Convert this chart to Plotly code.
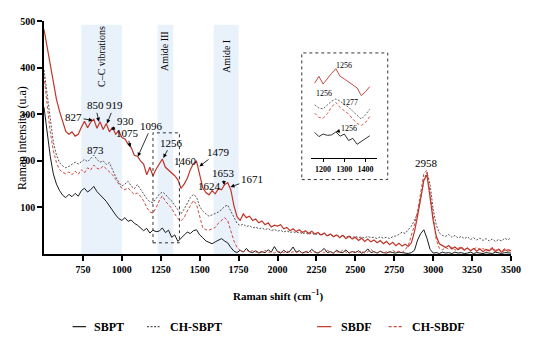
import plotly.graph_objects as go

# ---------------- data ----------------
raman_shift = list(range(500, 3501, 20))

sbpt = [
    315, 262, 210, 172, 150, 136, 126, 121, 128, 123,   # 500-680
    130, 124, 136, 141, 133, 138, 145, 134, 128, 120,   # 700-880
    113, 103, 93, 84, 76, 72, 78, 70, 73, 66,           # 900-1080
    62, 56, 50, 55, 45, 51, 48, 49, 56, 46,             # 1100-1280
    51, 36, 41, 27, 34, 40, 47, 44, 50, 52,             # 1300-1480
    41, 35, 28, 25, 22, 26, 30, 33, 28, 24,             # 1500-1680
    14, 6, 3, 8, 4, 12, 5, 3, 7, 2,                     # 1700-1880
    5, 3, 9, 4, 16, 5, 2, 8, 3, 6,                      # 1900-2080
    15, 4, 7, 2, 5, 3, 10, 4, 2, 6,                     # 2100-2280
    12, 3, 5, 2, 8, 4, 3, 9, 2, 5,                      # 2300-2480
    3, 7, 2, 4, 11, 3, 5, 2, 6, 3,                      # 2500-2680
    2, 5, 3, 2, 4, 3, 2, 1, 3, 8,                       # 2700-2880
    30, 44, 52, 34, 10, 2, 3, 1, 4, 2,                  # 2900-3080
    3, 1, 4, 2, 3, 1, 2, 4, 1, 3,                       # 3100-3280
    2, 1, 3, 2, 1, 4, 2, 1, 3, 2,                       # 3300-3480
    2,                                                  # 3500
]

ch_sbpt = [
    395, 340, 282, 240, 212, 196, 189, 185, 188, 193,
    197, 193, 199, 203, 198, 206, 212, 203, 197, 200,
    192, 196, 180, 166, 154, 146, 150, 156, 146, 140,
    149, 139, 130, 119, 112, 110, 119, 128, 133, 128,
    120, 114, 104, 94, 86, 96, 109, 121, 128, 122,
    102, 92, 86, 81, 84, 87, 90, 95, 102, 105,
    92, 78, 66, 61, 64, 59, 61, 56, 58, 54,
    56, 52, 55, 50, 53, 49, 51, 47, 50, 46,
    48, 45, 47, 43, 46, 42, 45, 41, 44, 40,
    43, 39, 42, 38, 41, 37, 40, 36, 39, 35,
    38, 35, 37, 34, 38, 35, 36, 33, 37, 34,
    36, 33, 37, 39, 42, 47, 44, 52, 60, 72,
    88, 118, 160, 175, 150, 96, 62, 45, 40, 38,
    42, 36, 40, 34, 38, 33, 37, 31, 35, 30,
    34, 29, 33, 28, 32, 27, 31, 28, 34, 30,
    35,
]

sbdf = [
    482, 445, 405, 368, 332, 306, 282, 263, 257, 262,
    253, 257, 272, 285, 271, 283, 289, 270, 284, 267,
    280, 262, 272, 257, 264, 250, 247, 236, 229, 212,
    210, 200, 193, 170, 186, 168, 182, 193, 204, 186,
    180, 173, 168, 159, 141, 150, 162, 181, 194, 199,
    172, 142, 132, 127, 136, 129, 140, 138, 149, 153,
    138, 104, 80, 72, 86, 78, 81, 72, 75, 67,
    71, 63, 67, 58, 62, 60, 63, 54, 57, 50,
    54, 48, 52, 46, 50, 44, 49, 43, 46, 41,
    45, 39, 43, 37, 41, 35, 40, 33, 38, 32,
    36, 29, 34, 27, 32, 26, 30, 24, 29, 22,
    27, 20, 25, 18, 23, 17, 21, 16, 24, 48,
    82, 118, 158, 170, 120, 72, 38, 22, 18, 14,
    18, 11, 15, 9, 14, 8, 13, 7, 12, 6,
    11, 5, 10, 7, 12, 5, 10, 4, 9, 6,
    8,
]

ch_sbdf = [
    382, 318, 262, 222, 196, 181, 175, 172, 176, 170,
    178, 171, 181, 174, 185, 180, 191, 184, 182, 189,
    183, 178, 170, 160, 150, 141, 138, 142, 134, 128,
    131, 124, 114, 100, 90, 88, 99, 114, 125, 113,
    106, 98, 86, 76, 71, 78, 92, 103, 115, 106,
    80, 56, 52, 51, 54, 57, 66, 71, 78, 72,
    52, 28, 14, 8, 5, 9, 4, 7, 3, 6,
    4, 8, 3, 5, 2, 6, 4, 3, 7, 2,
    5, 3, 6, 2, 4, 7, 3, 5, 2, 6,
    3, 8, 4, 2, 5, 3, 9, 4, 2, 6,
    4, 3, 7, 2, 5, 10, 4, 3, 6, 2,
    5, 3, 8, 4, 6, 3, 9, 18, 40, 62,
    92, 132, 172, 180, 135, 82, 30, 12, 9, 14,
    10, 15, 8, 12, 16, 9, 13, 7, 11, 14,
    9, 12, 6, 10, 14, 8, 11, 6, 12, 9,
    10,
]

series_names = ["SBPT", "CH-SBPT", "SBDF", "CH-SBDF"]
band_names = ["C–C vibrations", "Amide III", "Amide I"]
band_starts = [740, 1230, 1590]
band_ends = [1000, 1330, 1750]
x_ticks = list(range(750, 3501, 250))
y_ticks = [100, 200, 300, 400, 500]
inset_ticks = [1200, 1300, 1400]
inset_window = (1150, 1420)

# ---------------- geometry helpers ----------------
# the page body adds an 8px margin, so the figure is 542x338 to fill 550x346
FW, FH = 542, 338
L, R, T, B = 36, 39, 7, 92
PW, PH = FW - L - R, FH - T - B
SC = 0.955   # scale from measured reference units to screen pixels


def ox(o):
    return (o * SC - 8 - L) / PW


def oy(o):
    return (FH - B - (o * SC - 8)) / PH


FONT = "Liberation Serif"
styles = {
    "SBPT": dict(color="#1c1c1c", width=1.0, dash="solid"),
    "CH-SBPT": dict(color="#555555", width=1.0, dash="2px,1.5px"),
    "SBDF": dict(color="#c0352a", width=1.2, dash="solid"),
    "CH-SBDF": dict(color="#d2483c", width=1.0, dash="3px,2px"),
}
data_map = {"SBPT": sbpt, "CH-SBPT": ch_sbpt, "SBDF": sbdf, "CH-SBDF": ch_sbdf}

fig = go.Figure()

draw_order = ["SBPT", "CH-SBPT", "CH-SBDF", "SBDF"]
for name in draw_order:
    fig.add_trace(go.Scatter(x=raman_shift, y=data_map[name], mode="lines",
                             line=styles[name], name=name, showlegend=False,
                             xaxis="x", yaxis="y"))

# inset traces
idx = [i for i, v in enumerate(raman_shift) if inset_window[0] <= v <= inset_window[1]]
for name in draw_order:
    fig.add_trace(go.Scatter(x=[raman_shift[i] for i in idx],
                             y=[data_map[name][i] for i in idx], mode="lines",
                             line=dict(color=styles[name]["color"], width=0.9,
                                       dash=styles[name]["dash"]),
                             showlegend=False, xaxis="x2", yaxis="y2"))

shapes = []
for s, e in zip(band_starts, band_ends):
    shapes.append(dict(type="rect", xref="x", yref="y", x0=s, x1=e, y0=0, y1=492,
                       fillcolor="#e9f1fb", line=dict(width=0), layer="below"))
# dotted rectangle in main plot
shapes.append(dict(type="rect", xref="x", yref="y", x0=1200, x1=1370, y0=24, y1=260,
                   line=dict(color="#333", width=1, dash="dot")))
# inset frame
shapes.append(dict(type="rect", xref="paper", yref="paper",
                   x0=ox(316), x1=ox(406), y0=oy(186), y1=oy(50),
                   line=dict(color="#333", width=1, dash="dot")))

annotations = []
font_lbl = dict(family=FONT, size=11, color="black")


def arrow_ann(text, tx, ty, hx, hy, size=11, xr="x", yr="y"):
    annotations.append(dict(x=hx, y=hy, ax=tx, ay=ty, xref=xr, yref=yr,
                            axref=xr, ayref=yr, text=text, showarrow=True,
                            arrowhead=2, arrowsize=1, arrowwidth=0.8,
                            arrowcolor="black", standoff=0,
                            font=dict(family=FONT, size=size, color="black")))


arrow_ann("827", 690, 293, 813, 287)
arrow_ann("850", 829, 319, 853, 284)
arrow_ann("919", 951, 319, 905, 280)
arrow_ann("930", 1021, 285, 931, 266)
arrow_ann("1075", 1034, 259, 1054, 229)
arrow_ann("1096", 1191, 275, 1103, 209)
arrow_ann("1256", 1318, 239, 1267, 206)
arrow_ann("873", 829, 224, 860, 206)
arrow_ann("1460", 1410, 200, 1441, 185)
arrow_ann("1479", 1621, 219, 1498, 188)
arrow_ann("1653", 1651, 174, 1657, 148)
arrow_ann("1624", 1565, 145, 1621, 131)
arrow_ann("1671", 1835, 160, 1698, 144)

annotations.append(dict(x=2960, y=195, xref="x", yref="y", text="2958", showarrow=False,
                        font=font_lbl))

# inset labels
arrow_ann("1256", 1297, 212, 1260, 202, size=8, xr="x2", yr="y2")
arrow_ann("1256", 1203, 147, 1252, 134, size=8, xr="x2", yr="y2")
arrow_ann("1277", 1329, 125, 1288, 128, size=8, xr="x2", yr="y2")
arrow_ann("1256", 1320, 64, 1260, 56, size=8, xr="x2", yr="y2")

# band labels
for name, cx, cy in zip(band_names, [870, 1279, 1672], [424, 436, 424]):
    annotations.append(dict(x=cx, y=cy, xref="x", yref="y", text=name, textangle=-90,
                            showarrow=False, font=dict(family=FONT, size=10, color="black")))

# axis titles
annotations.append(dict(x=ox(13), y=0.5, xref="paper", yref="paper",
                        text="Raman intensity (u.a)", textangle=-90, showarrow=False,
                        font=dict(family=FONT, size=12, color="black")))
annotations.append(dict(x=0.5, y=oy(321), xref="paper", yref="paper",
                        text="Raman shift (cm<sup>−1</sup>)", showarrow=False,
                        font=dict(family=FONT, size=11, color="black", weight="bold")))

# manual legend
leg_y = 344
leg_items = [("SBPT", 76, 90, 96), ("CH-SBPT", 154, 168, 176),
             ("SBDF", 332, 347, 355), ("CH-SBDF", 407, 422, 429)]
for name, s0, s1, tx in leg_items:
    st = styles[name]
    shapes.append(dict(type="line", xref="paper", yref="paper",
                       x0=ox(s0), x1=ox(s1), y0=oy(leg_y), y1=oy(leg_y),
                       line=dict(color=st["color"], width=1.2, dash=st["dash"])))
    annotations.append(dict(x=ox(tx), y=oy(leg_y), xref="paper", yref="paper",
                            text=name, showarrow=False, xanchor="left", yanchor="middle",
                            font=dict(family=FONT, size=12, color="black", weight="bold")))

fig.update_layout(
    width=FW, height=FH,
    margin=dict(l=L, r=R, t=T, b=B),
    plot_bgcolor="white", paper_bgcolor="white",
    showlegend=False,
    font=dict(family=FONT, color="black"),
    xaxis=dict(range=[500, 3500], tickvals=x_ticks, ticks="outside", ticklen=5,
               tickwidth=1.5, tickcolor="black", showline=True, linewidth=1.5,
               linecolor="black", showgrid=False, zeroline=False,
               tickfont=dict(family=FONT, size=10, color="black", weight="bold")),
    yaxis=dict(range=[0, 500], tickvals=y_ticks, ticks="outside", ticklen=5,
               tickwidth=1.5, tickcolor="black", showline=True, linewidth=1.5,
               linecolor="black", showgrid=False, zeroline=False,
               tickfont=dict(family=FONT, size=10, color="black", weight="bold")),
    xaxis2=dict(domain=[ox(325.7), ox(394.3)], anchor="y2", range=[1143, 1452],
                tickvals=inset_ticks, ticks="outside", ticklen=3, tickwidth=1,
                tickcolor="black", showline=True, linewidth=1, linecolor="black",
                showgrid=False, zeroline=False,
                tickfont=dict(family=FONT, size=8, color="black", weight="bold")),
    yaxis2=dict(domain=[oy(163.3), oy(60)], anchor="x2", range=[-6, 219],
                visible=False),
    shapes=shapes,
    annotations=annotations,
)

fig.write_html("out.html")
